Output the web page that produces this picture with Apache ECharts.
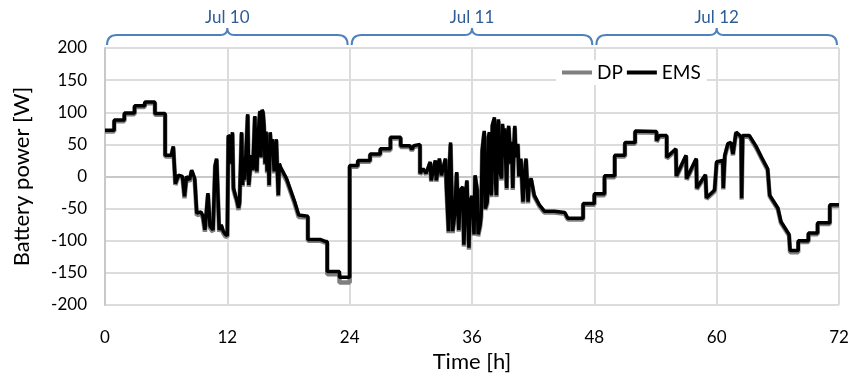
<!DOCTYPE html>
<html>
<head>
<meta charset="utf-8">
<script src="https://cdn.jsdelivr.net/npm/echarts@6/dist/echarts.min.js"></script>
<style>
  html, body { margin: 0; padding: 0; background: #fff; }
  #chart { width: 855px; height: 378px; }
</style>
</head>
<body>
<div id="chart"></div>
<script>
// time axis ticks [h] and power ticks [W]
const hourTicks = [0, 12, 24, 36, 48, 60, 72]
const powerMin = -200
const powerMax = 200

// day brackets on top
const dayLabels = ['Jul 10', 'Jul 11', 'Jul 12']
const dayBounds = [0, 24, 48, 72]

// [hour, W]
const dpPoints = [
  [0, 70], [0.9, 70], [0.9, 86], [1.9, 86], [1.9, 97], [2.9, 97], [2.9, 108], [3.9, 108], [3.9, 114], [4.9, 114],
  [4.9, 96], [5.9, 96], [5.9, 31], [6.5, 31], [6.7, 45], [6.9, -13], [7.2, 0], [7.6, -2], [7.8, -34], [8.0, -2],
  [8.3, -8], [8.5, 8], [8.8, -6], [9.0, -60], [9.4, -58], [9.6, -64], [9.8, -86], [10.1, -28], [10.3, -80], [10.6, -86],
  [10.8, 15], [10.95, 26], [11.2, -86], [11.4, -78], [11.6, -88], [11.8, -93], [12.0, -94], [12.1, 62], [12.3, 59], [12.4, 18],
  [12.5, 67], [12.6, -20], [12.8, -32], [12.9, -37], [13.1, -52], [13.2, -42], [13.4, 67], [13.5, -16], [13.6, 28], [13.7, -8],
  [13.9, 58], [14.0, 95], [14.1, -16], [14.3, 18], [14.4, 31], [14.5, 8], [14.7, 92], [14.8, 18], [14.9, 5], [15.0, 58],
  [15.2, 100], [15.3, 28], [15.4, 102], [15.5, 98], [15.6, 77], [15.7, 18], [15.8, 68], [15.9, 5], [16.0, 48], [16.1, -16],
  [16.2, 67], [16.3, 38], [16.4, 56], [16.6, 5], [16.7, 38], [16.8, 56], [17.0, -31], [17.1, 18], [17.2, 12], [17.8, -6],
  [18.6, -42], [19.0, -63], [19.9, -64], [19.9, -100], [21.1, -100], [21.6, -103], [21.8, -103], [21.8, -152], [23.0, -152], [23.0, -165],
  [24.0, -165], [24.0, 15], [24.8, 15], [24.8, 23], [26.0, 23], [26.0, 33], [27.0, 33], [27.0, 41], [28.0, 41], [28.0, 59],
  [29.0, 59], [29.0, 46], [29.9, 46], [30.1, 40], [30.3, 46], [30.9, 48], [30.9, 3], [31.2, 10], [31.5, 3], [31.9, 21],
  [32.0, -8], [32.4, 23], [32.5, -8], [32.8, 26], [33.0, 0], [33.4, 26], [33.5, -20], [33.7, -88], [33.8, 18], [33.9, 50],
  [34.0, -22], [34.1, -88], [34.3, -62], [34.5, 5], [34.7, -86], [34.9, -22], [35.1, -18], [35.2, -109], [35.4, -32], [35.5, -8],
  [35.7, -114], [35.8, -42], [36.0, -32], [36.2, -92], [36.3, 0], [36.5, -22], [36.6, -93], [36.8, -78], [36.9, -63], [37.0, 38],
  [37.2, 68], [37.3, -52], [37.5, -42], [37.6, 58], [37.7, 66], [37.8, -22], [37.9, -32], [38.0, 78], [38.2, 89], [38.3, -12],
  [38.4, -32], [38.5, 68], [38.6, 86], [38.7, 8], [38.9, -6], [39.0, 79], [39.1, 28], [39.2, 72], [39.4, -21], [39.5, 58],
  [39.6, 76], [39.8, 18], [39.9, 51], [40.0, -21], [40.1, 38], [40.2, 76], [40.3, 28], [40.5, 48], [40.6, -2], [40.8, 25],
  [41.0, -42], [41.2, 8], [41.3, 25], [41.5, -42], [41.6, -12], [41.8, -6], [42.1, -31], [42.6, -46], [43.1, -56], [44.1, -56],
  [45.1, -58], [45.4, -67], [46.9, -67], [46.9, -44], [48.0, -44], [48.0, -29], [49.0, -29], [49.0, -1], [50.0, -1], [50.0, 31],
  [51.0, 31], [51.0, 51], [52.0, 51], [52.0, 69], [54.1, 68], [54.1, 54], [54.4, 62], [55.1, 62], [55.1, 28], [56.0, 41],
  [56.05, -1], [57.0, 31], [57.05, -5], [58.0, 26], [58.05, -20], [58.9, 1], [59.0, -35], [59.8, -23], [60.0, 21], [60.6, 23],
  [60.65, -20], [60.8, 31], [61.1, 49], [61.4, 51], [61.6, 33], [61.9, 67], [62.4, 60], [62.45, -36], [62.55, 62], [63.2, 62],
  [63.9, 44], [64.4, 28], [65.0, 10], [65.2, -31], [66.0, -51], [66.3, -72], [67.1, -92], [67.2, -118], [68.0, -118], [68.0, -102],
  [69.0, -102], [69.0, -90], [69.9, -90], [69.9, -74], [71.1, -74], [71.1, -46], [72, -46]
]

const emsPoints = [
  [0, 72], [0.9, 72], [0.9, 88], [1.9, 88], [1.9, 99], [2.9, 99], [2.9, 110], [3.9, 110], [3.9, 116], [4.9, 116],
  [4.9, 98], [5.9, 98], [5.9, 33], [6.5, 33], [6.7, 47], [6.9, -11], [7.2, 2], [7.6, 0], [7.8, -31], [8.0, 0],
  [8.3, -5], [8.5, 10], [8.8, -3], [9.0, -57], [9.4, -55], [9.6, -61], [9.8, -83], [10.1, -26], [10.3, -77], [10.6, -83],
  [10.8, 17], [10.95, 28], [11.2, -83], [11.4, -75], [11.6, -85], [11.8, -90], [12.0, -92], [12.1, 64], [12.3, 61], [12.4, 20],
  [12.5, 69], [12.6, -18], [12.8, -30], [12.9, -35], [13.1, -49], [13.2, -40], [13.4, 69], [13.5, -13], [13.6, 30], [13.7, -5],
  [13.9, 60], [14.0, 97], [14.1, -13], [14.3, 20], [14.4, 33], [14.5, 10], [14.7, 94], [14.8, 20], [14.9, 8], [15.0, 60],
  [15.2, 102], [15.3, 30], [15.4, 104], [15.5, 100], [15.6, 79], [15.7, 20], [15.8, 70], [15.9, 8], [16.0, 50], [16.1, -13],
  [16.2, 69], [16.3, 40], [16.4, 58], [16.6, 8], [16.7, 40], [16.8, 58], [17.0, -29], [17.1, 20], [17.2, 15], [17.8, -3],
  [18.6, -39], [19.0, -60], [19.9, -62], [19.9, -98], [21.1, -98], [21.6, -101], [21.8, -101], [21.8, -148], [23.0, -148], [23.0, -157],
  [24.0, -157], [24.0, 17], [24.8, 17], [24.8, 25], [26.0, 25], [26.0, 35], [27.0, 35], [27.0, 43], [28.0, 43], [28.0, 61],
  [29.0, 61], [29.0, 48], [29.9, 48], [30.1, 42], [30.3, 48], [30.9, 50], [30.9, 5], [31.2, 12], [31.5, 5], [31.9, 23],
  [32.0, -6], [32.4, 25], [32.5, -6], [32.8, 28], [33.0, 2], [33.4, 28], [33.5, -18], [33.7, -85], [33.8, 20], [33.9, 53],
  [34.0, -20], [34.1, -85], [34.3, -60], [34.5, 7], [34.7, -83], [34.9, -20], [35.1, -16], [35.2, -106], [35.4, -30], [35.5, -6],
  [35.7, -111], [35.8, -40], [36.0, -30], [36.2, -90], [36.3, 2], [36.5, -20], [36.6, -90], [36.8, -75], [36.9, -60], [37.0, 40],
  [37.2, 71], [37.3, -50], [37.5, -39], [37.6, 60], [37.7, 69], [37.8, -20], [37.9, -29], [38.0, 80], [38.2, 92], [38.3, -10],
  [38.4, -29], [38.5, 70], [38.6, 89], [38.7, 10], [38.9, -3], [39.0, 82], [39.1, 30], [39.2, 75], [39.4, -18], [39.5, 60],
  [39.6, 79], [39.8, 20], [39.9, 54], [40.0, -18], [40.1, 40], [40.2, 79], [40.3, 30], [40.5, 51], [40.6, 0], [40.8, 28],
  [41.0, -39], [41.2, 10], [41.3, 28], [41.5, -39], [41.6, -10], [41.8, -3], [42.1, -29], [42.6, -44], [43.1, -54], [44.1, -54],
  [45.1, -56], [45.4, -65], [46.9, -65], [46.9, -42], [48.0, -42], [48.0, -27], [49.0, -27], [49.0, 1], [50.0, 1], [50.0, 33],
  [51.0, 33], [51.0, 53], [52.0, 53], [52.0, 71], [54.1, 70], [54.1, 56], [54.4, 64], [55.1, 64], [55.1, 30], [56.0, 43],
  [56.05, 1], [57.0, 33], [57.05, -3], [58.0, 28], [58.05, -18], [58.9, 3], [59.0, -33], [59.8, -21], [60.0, 23], [60.6, 25],
  [60.65, -18], [60.8, 33], [61.1, 51], [61.4, 53], [61.6, 35], [61.9, 69], [62.4, 62], [62.45, -34], [62.55, 64], [63.2, 64],
  [63.9, 46], [64.4, 30], [65.0, 12], [65.2, -29], [66.0, -49], [66.3, -70], [67.1, -90], [67.2, -115], [68.0, -115], [68.0, -100],
  [69.0, -100], [69.0, -88], [69.9, -88], [69.9, -72], [71.1, -72], [71.1, -44], [72, -44]
]

const FONT = 'Lato, "Noto Sans", sans-serif'
const braceColor = '#4f81bd'
const dayTextColor = '#2f5b96'

const chart = echarts.init(document.getElementById('chart'), null, { renderer: 'canvas' })

// draws the curly bracket + day label above the plot for each day
function renderBrace(params, api) {
  const s = api.value(0)
  const e = api.value(1)
  const p0 = api.coord([s, powerMax])
  const p1 = api.coord([e, powerMax])
  const x0 = p0[0] + 2
  const x1 = p1[0] - 2
  const xm = (p0[0] + p1[0]) / 2
  const yb = p0[1] - 3
  const yh = yb - 10
  const ya = yb - 17
  const d = `M${x0},${yb} Q${x0},${yh} ${x0 + 10},${yh} L${xm - 7},${yh} Q${xm},${yh} ${xm},${ya} ` +
    `Q${xm},${yh} ${xm + 7},${yh} L${x1 - 10},${yh} Q${x1},${yh} ${x1},${yb}`
  return {
    type: 'group',
    children: [
      {
        type: 'path',
        shape: { pathData: d },
        style: { stroke: braceColor, lineWidth: 2, fill: null },
      },
      {
        type: 'text',
        style: {
          text: dayLabels[params.dataIndex],
          x: xm,
          y: ya - 2,
          align: 'center',
          verticalAlign: 'bottom',
          fill: dayTextColor,
          fontSize: 17,
          fontFamily: FONT,
        },
      },
    ],
  }
}

const option = {
  backgroundColor: '#fff',
  animation: false,
  textStyle: { fontFamily: FONT },
  grid: { left: 105, right: 16, top: 48, bottom: 70 },
  legend: {
    data: ['DP', 'EMS'],
    left: 556,
    top: 60,
    backgroundColor: '#fff',
    padding: [3, 6],
    itemGap: 4,
    itemWidth: 30,
    itemHeight: 4,
    icon: 'rect',
    textStyle: { fontSize: 19, color: '#000', fontFamily: FONT },
  },
  xAxis: {
    type: 'value',
    min: hourTicks[0],
    max: hourTicks[hourTicks.length - 1],
    interval: 12,
    name: 'Time [h]',
    nameLocation: 'middle',
    nameGap: 46,
    nameTextStyle: { fontSize: 22, color: '#000', fontFamily: FONT },
    axisLine: { show: true, lineStyle: { color: '#c8c8c8', width: 2 } },
    axisTick: { show: false },
    axisLabel: { fontSize: 17, color: '#000', margin: 24, fontFamily: FONT },
    splitLine: { show: true, lineStyle: { color: '#dcdcdc', width: 2 } },
  },
  yAxis: {
    type: 'value',
    min: powerMin,
    max: powerMax,
    interval: 50,
    name: 'Battery power [W]',
    nameLocation: 'middle',
    nameGap: 72,
    nameTextStyle: { fontSize: 22, color: '#000', fontFamily: FONT },
    axisLine: { show: true, lineStyle: { color: '#c8c8c8', width: 2 } },
    axisTick: { show: false },
    axisLabel: { fontSize: 17, color: '#000', margin: 18, fontFamily: FONT },
    splitLine: { show: true, lineStyle: { color: '#dcdcdc', width: 2 } },
  },
  series: [
    {
      name: 'DP',
      type: 'line',
      symbol: 'none',
      color: '#7f7f7f',
      lineStyle: { width: 4.5, color: '#7f7f7f' },
      data: dpPoints,
      z: 2,
    },
    {
      name: 'EMS',
      type: 'line',
      symbol: 'none',
      color: '#000',
      lineStyle: { width: 3.5, color: '#000' },
      data: emsPoints,
      z: 3,
    },
    {
      type: 'custom',
      silent: true,
      clip: false,
      renderItem: renderBrace,
      encode: { x: [0, 1] },
      data: dayLabels.map((_, i) => [dayBounds[i], dayBounds[i + 1]]),
      z: 5,
    },
  ],
}

chart.setOption(option)
</script>
</body>
</html>
